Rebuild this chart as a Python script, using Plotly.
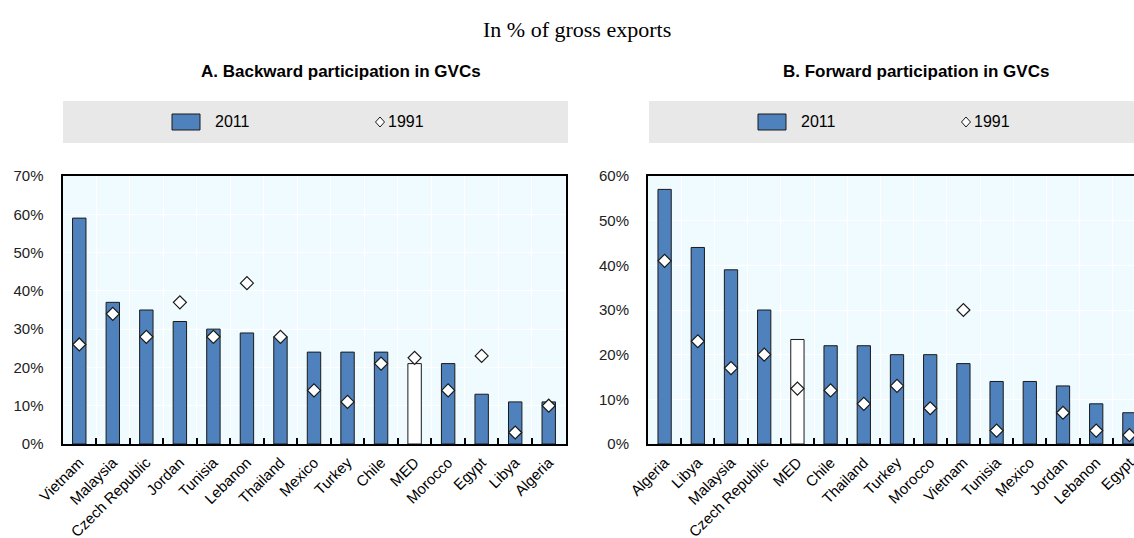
import plotly.graph_objects as go

# ---------------- data ----------------
back_countries = ["Vietnam", "Malaysia", "Czech Republic", "Jordan", "Tunisia", "Lebanon",
                  "Thailand", "Mexico", "Turkey", "Chile", "MED", "Morocco", "Egypt",
                  "Libya", "Algeria"]
back_2011 = [59, 37, 35, 32, 30, 29, 28, 24, 24, 24, 21, 21, 13, 11, 11]
back_1991 = [26, 34, 28, 37, 28, 42, 28, 14, 11, 21, 22.5, 14, 23, 3, 10]

fwd_countries = ["Algeria", "Libya", "Malaysia", "Czech Republic", "MED", "Chile", "Thailand",
                 "Turkey", "Morocco", "Vietnam", "Tunisia", "Mexico", "Jordan", "Lebanon",
                 "Egypt"]
fwd_2011 = [57, 44, 39, 30, 23.4, 22, 22, 20, 20, 18, 14, 14, 13, 9, 7]
fwd_1991 = [41, 23, 17, 20, 12.4, 12, 9, 13, 8, 30, 3, None, 7, 3, 2]

y_ticks_a = [0, 10, 20, 30, 40, 50, 60, 70]
y_ticks_b = [0, 10, 20, 30, 40, 50, 60]
y_labels_a = [f"{v}%" for v in y_ticks_a]
y_labels_b = [f"{v}%" for v in y_ticks_b]

main_title = "In % of gross exports"
title_a = "A. Backward participation in GVCs"
title_b = "B. Forward participation in GVCs"
legend_labels = ["2011", "1991"]

# ---------------- style ----------------
W, H = 1134, 538
BLUE = "#4F81BD"
PLOT_BG = "#F0FBFF"
LEG_BG = "#E8E8E8"
SANS = "Liberation Sans, Arial, sans-serif"
SERIF = "Liberation Serif, Times New Roman, serif"


def px(x):
    return x / W


def py(y):
    return 1 - y / H


def bar_colors(cats):
    return ["white" if c == "MED" else BLUE for c in cats]


fig = go.Figure()

fig.add_trace(go.Bar(x=back_countries, y=back_2011, width=0.4,
                     marker=dict(color=bar_colors(back_countries), line=dict(color="#1a1a1a", width=1)),
                     xaxis="x", yaxis="y", showlegend=False))
fig.add_trace(go.Scatter(x=back_countries, y=back_1991, mode="markers",
                         marker=dict(symbol="diamond", size=10, color="white",
                                     line=dict(color="#1a1a1a", width=1.2)),
                         xaxis="x", yaxis="y", showlegend=False))
fig.add_trace(go.Bar(x=fwd_countries, y=fwd_2011, width=0.4,
                     marker=dict(color=bar_colors(fwd_countries), line=dict(color="#1a1a1a", width=1)),
                     xaxis="x2", yaxis="y2", showlegend=False))
fig.add_trace(go.Scatter(x=fwd_countries, y=fwd_1991, mode="markers",
                         marker=dict(symbol="diamond", size=10, color="white",
                                     line=dict(color="#1a1a1a", width=1.2)),
                         xaxis="x2", yaxis="y2", showlegend=False))

ydom = [py(444), py(176)]
a_left, a_right = 62.5, 565.5
b_left = 648
b_step = 33.2

xcommon = dict(type="category", showgrid=True, gridcolor="white", gridwidth=1,
               tickson="boundaries", ticks="inside", ticklen=6, tickwidth=1.5, tickcolor="black",
               showline=True, linecolor="black", linewidth=2, mirror=True,
               tickangle=-45, tickfont=dict(family=SANS, size=15, color="black"),
               ticklabelstandoff=2,
               zeroline=False, fixedrange=True, automargin=False)
ycommon = dict(showgrid=True, gridcolor="white", gridwidth=1, ticks="", tickmode="array",
               showline=True, linecolor="black", linewidth=2, zeroline=False,
               tickfont=dict(family=SANS, size=15, color="#222222"), ticklabelstandoff=14,
               fixedrange=True, automargin=False)

fig.update_layout(
    width=W, height=H, autosize=False,
    margin=dict(l=0, r=0, t=0, b=0, pad=0, autoexpand=False),
    paper_bgcolor="white", plot_bgcolor=PLOT_BG,
    xaxis=dict(domain=[px(a_left), px(a_right)], range=[-0.5, 14.5],
               categoryorder="array", categoryarray=back_countries, anchor="y", **xcommon),
    yaxis=dict(domain=ydom, range=[0, 70], tickvals=y_ticks_a, ticktext=y_labels_a,
               anchor="x", mirror=True, **ycommon),
    xaxis2=dict(domain=[px(b_left), 1.0], range=[-0.5, -0.5 + (W - b_left) / b_step],
                categoryorder="array", categoryarray=fwd_countries, anchor="y2", **xcommon),
    yaxis2=dict(domain=ydom, range=[0, 60], tickvals=y_ticks_b, ticktext=y_labels_b,
                anchor="x2", mirror=False, **ycommon),
)

shapes = []
annotations = []

annotations.append(dict(text=main_title, x=px(577), y=py(30), xref="paper", yref="paper",
                        xanchor="center", yanchor="middle", showarrow=False,
                        font=dict(family=SERIF, size=22, color="black")))
for t, cx in [(title_a, 341), (title_b, 916)]:
    annotations.append(dict(text="<b>" + t + "</b>", x=px(cx), y=py(71), xref="paper", yref="paper",
                            xanchor="center", yanchor="middle", showarrow=False,
                            font=dict(family=SANS, size=17, color="black")))

# legend boxes
for (bx0, bx1) in [(63, 568), (649, 1134)]:
    shapes.append(dict(type="rect", xref="paper", yref="paper", layer="below",
                       x0=px(bx0), x1=px(bx1), y0=py(143), y1=py(101),
                       fillcolor=LEG_BG, line=dict(width=0)))
    rx = bx0 + 109
    shapes.append(dict(type="rect", xref="paper", yref="paper",
                       x0=px(rx), x1=px(rx + 28), y0=py(130), y1=py(114),
                       fillcolor=BLUE, line=dict(color="#1a1a1a", width=1)))
    annotations.append(dict(text=legend_labels[0], x=px(rx + 41), y=py(122), xref="paper", yref="paper",
                            xanchor="left", yanchor="middle", showarrow=False,
                            font=dict(family=SANS, size=16, color="black")))
    dx = bx0 + 317
    dy = 122
    shapes.append(dict(type="path", xref="paper", yref="paper",
                       path=f"M {px(dx)},{py(dy-5)} L {px(dx+4.5)},{py(dy)} L {px(dx)},{py(dy+5)} L {px(dx-4.5)},{py(dy)} Z",
                       fillcolor="white", line=dict(color="#1a1a1a", width=1)))
    annotations.append(dict(text=legend_labels[1], x=px(dx + 6), y=py(122), xref="paper", yref="paper",
                            xanchor="left", yanchor="middle", showarrow=False,
                            font=dict(family=SANS, size=16, color="black")))

fig.update_layout(shapes=shapes, annotations=annotations)

fig.write_html("out.html", config={"displayModeBar": False},
               post_script="document.body.style.margin='0';document.body.style.overflow='hidden';")
